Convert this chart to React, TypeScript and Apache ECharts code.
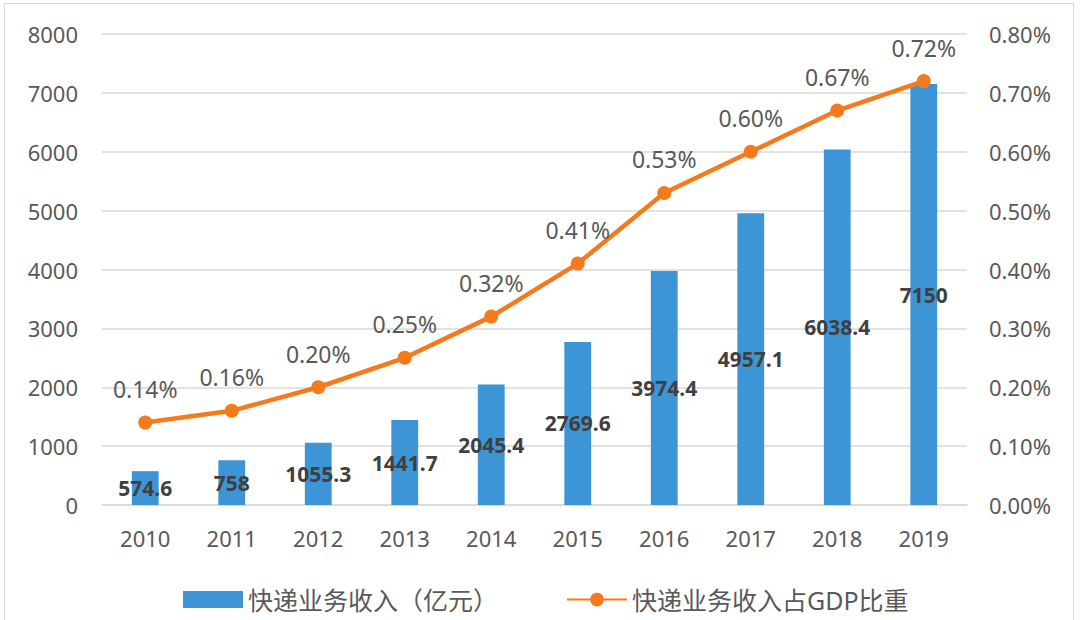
import React, { useEffect, useRef } from 'react';
import * as echarts from 'echarts';

const years = ['2010', '2011', '2012', '2013', '2014', '2015', '2016', '2017', '2018', '2019'];
const revenue = [574.6, 758, 1055.3, 1441.7, 2045.4, 2769.6, 3974.4, 4957.1, 6038.4, 7150];
const gdpShare = [0.14, 0.16, 0.2, 0.25, 0.32, 0.41, 0.53, 0.6, 0.67, 0.72];

const barName = '快递业务收入（亿元）';
const lineName = '快递业务收入占GDP比重';

const FONT = "'Noto Sans', 'Noto Sans CJK SC', sans-serif";

export default function App() {
  const chartRef = useRef<HTMLDivElement>(null);

  useEffect(() => {
    if (!chartRef.current) return;
    const chart = echarts.init(chartRef.current, null, { renderer: 'svg' });

    chart.setOption({
      animation: false,
      backgroundColor: '#ffffff',
      textStyle: { fontFamily: FONT },
      grid: { left: 97, right: 105, top: 30, bottom: 115 },
      legend: {
        top: 578,
        left: 173,
        itemGap: 68,
        itemWidth: 60,
        itemHeight: 17,
        textStyle: { fontSize: 25, color: '#595959', fontFamily: FONT },
        data: [
          { name: barName, icon: 'rect' },
          { name: lineName }
        ]
      },
      xAxis: {
        type: 'category',
        data: years,
        axisTick: { show: false },
        axisLine: { lineStyle: { color: '#d9d9d9', width: 1.5 } },
        axisLabel: { color: '#595959', fontSize: 22, margin: 22 }
      },
      yAxis: [
        {
          type: 'value',
          min: 0,
          max: 8000,
          interval: 1000,
          axisLine: { show: false },
          axisTick: { show: false },
          splitLine: { lineStyle: { color: '#d9d9d9', width: 1.5 } },
          axisLabel: {
            color: '#595959',
            fontSize: 22,
            margin: 24,
            formatter: (v: number) => String(v)
          }
        },
        {
          type: 'value',
          min: 0,
          max: 0.8,
          interval: 0.1,
          axisLine: { show: false },
          axisTick: { show: false },
          splitLine: { show: false },
          axisLabel: {
            color: '#595959',
            fontSize: 22,
            margin: 22,
            formatter: (v: number) => v.toFixed(2) + '%'
          }
        }
      ],
      series: [
        {
          name: barName,
          type: 'bar',
          data: revenue,
          barWidth: '31%',
          itemStyle: { color: '#3d95d5' },
          label: {
            show: true,
            position: 'inside',
            color: '#404040',
            fontSize: 21,
            fontWeight: 'bold'
          }
        },
        {
          name: lineName,
          type: 'line',
          yAxisIndex: 1,
          data: gdpShare,
          symbol: 'circle',
          symbolSize: 14,
          lineStyle: { color: '#f57a1c', width: 4.5 },
          itemStyle: { color: '#f57a1c' },
          label: {
            show: true,
            position: 'top',
            distance: 15,
            color: '#595959',
            fontSize: 23,
            formatter: (p: any) => p.value.toFixed(2) + '%'
          }
        }
      ]
    });

    return () => chart.dispose();
  }, []);

  return (
    <div style={{ position: 'fixed', left: 0, top: 0, width: 1080, height: 620, background: '#fff' }}>
      <div
        style={{
          position: 'absolute',
          left: 4,
          top: 3,
          width: 1070,
          height: 620,
          border: '1.5px solid #d9d9d9',
          boxSizing: 'border-box'
        }}
      >
        <div ref={chartRef} style={{ width: 1067, height: 616 }} />
      </div>
    </div>
  );
}
